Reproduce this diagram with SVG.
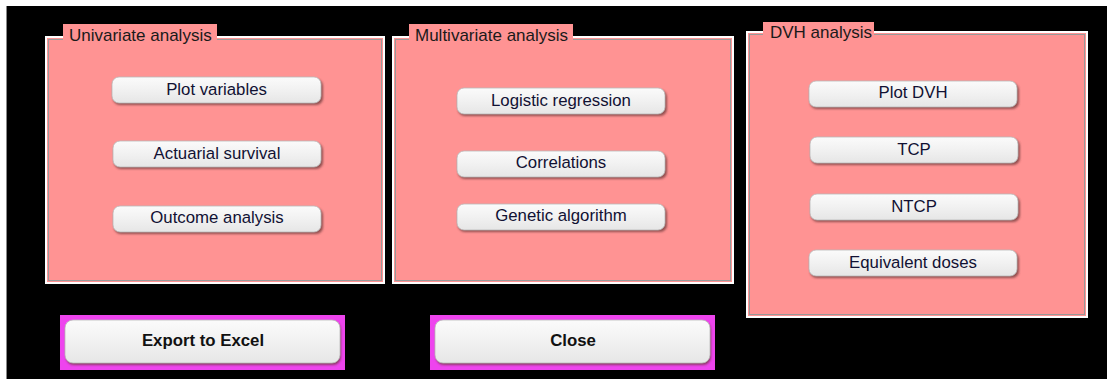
<svg xmlns="http://www.w3.org/2000/svg" width="1107" height="379" viewBox="0 0 1107 379">
  <defs>
    <linearGradient id="btnGrad" x1="0" y1="0" x2="0" y2="1">
      <stop offset="0" stop-color="#fbfbfb"/>
      <stop offset="0.5" stop-color="#f1f1f1"/>
      <stop offset="1" stop-color="#e6e6e6"/>
    </linearGradient>
    <filter id="blur1" x="-10%" y="-30%" width="120%" height="160%">
      <feGaussianBlur stdDeviation="1"/>
    </filter>
  </defs>
  <style>
    .panel { fill: #ff9393; stroke: #ffffff; stroke-width: 2; }
    .panelInner { fill: none; stroke: #9a9a9a; stroke-width: 1; }
    .legendBg { fill: #ff9393; }
    .legend { font-family: "Liberation Sans", Arial, sans-serif; font-size: 17px; fill: #1a1a1a; }
    .shadow { fill: #6e3a3a; opacity: 0.75; filter: url(#blur1); }
    .btn { fill: url(#btnGrad); stroke: #b9b9b9; stroke-width: 0.8; }
    .btnText { font-family: "Liberation Sans", Arial, sans-serif; font-size: 16.8px; fill: #111133; text-anchor: middle; }
    .bigText { font-family: "Liberation Sans", Arial, sans-serif; font-size: 16.8px; font-weight: bold; fill: #111111; text-anchor: middle; }
    .focus { fill: #ee44ee; }
  </style>

  <rect x="0" y="0" width="1107" height="379" fill="#000000"/>
  <rect x="0" y="0" width="1107" height="6" fill="#ffffff"/>
  <rect x="0" y="0" width="6" height="379" fill="#ffffff"/>
  <line x1="6.5" y1="6" x2="6.5" y2="379" stroke="#888888" stroke-width="1"/>

  <g id="connectors"/>

  <!-- Univariate analysis -->
  <g id="panel-univariate">
    <rect class="panel" x="46" y="37" width="338" height="246"/>
    <rect class="panelInner" x="48.5" y="39.5" width="333" height="241"/>
    <rect class="legendBg" x="63" y="24" width="154" height="17"/>
    <text class="legend" x="69" y="41">Univariate analysis</text>
  </g>
  <g id="btn-plot-variables">
    <rect class="shadow" x="113" y="79" width="210" height="26" rx="7"/>
    <rect class="btn" x="112" y="77" width="209" height="26" rx="7"/>
    <text class="btnText" x="216.5" y="95">Plot variables</text>
  </g>
  <g id="btn-actuarial-survival">
    <rect class="shadow" x="114" y="143" width="209" height="26" rx="7"/>
    <rect class="btn" x="113" y="141" width="208" height="26" rx="7"/>
    <text class="btnText" x="217" y="159">Actuarial survival</text>
  </g>
  <g id="btn-outcome-analysis">
    <rect class="shadow" x="114" y="208" width="209" height="26" rx="7"/>
    <rect class="btn" x="113" y="206" width="208" height="26" rx="7"/>
    <text class="btnText" x="217" y="223">Outcome analysis</text>
  </g>

  <!-- Multivariate analysis -->
  <g id="panel-multivariate">
    <rect class="panel" x="393" y="37" width="340" height="246"/>
    <rect class="panelInner" x="395.5" y="39.5" width="335" height="241"/>
    <rect class="legendBg" x="409" y="24" width="164" height="17"/>
    <text class="legend" x="415" y="41">Multivariate analysis</text>
  </g>
  <g id="btn-logistic-regression">
    <rect class="shadow" x="458" y="90" width="209" height="26" rx="7"/>
    <rect class="btn" x="457" y="88" width="208" height="26" rx="7"/>
    <text class="btnText" x="561" y="106">Logistic regression</text>
  </g>
  <g id="btn-correlations">
    <rect class="shadow" x="458" y="153" width="209" height="26" rx="7"/>
    <rect class="btn" x="457" y="151" width="208" height="26" rx="7"/>
    <text class="btnText" x="561" y="168">Correlations</text>
  </g>
  <g id="btn-genetic-algorithm">
    <rect class="shadow" x="458" y="206" width="209" height="26" rx="7"/>
    <rect class="btn" x="457" y="204" width="208" height="26" rx="7"/>
    <text class="btnText" x="561" y="221">Genetic algorithm</text>
  </g>

  <!-- DVH analysis -->
  <g id="panel-dvh">
    <rect class="panel" x="747" y="32" width="340" height="285"/>
    <rect class="panelInner" x="749.5" y="34.5" width="335" height="280"/>
    <rect class="legendBg" x="763" y="22" width="111" height="17"/>
    <text class="legend" x="770" y="38">DVH analysis</text>
  </g>
  <g id="btn-plot-dvh">
    <rect class="shadow" x="810" y="83" width="209" height="26" rx="7"/>
    <rect class="btn" x="809" y="81" width="208" height="26" rx="7"/>
    <text class="btnText" x="913" y="98">Plot DVH</text>
  </g>
  <g id="btn-tcp">
    <rect class="shadow" x="811" y="139" width="209" height="26" rx="7"/>
    <rect class="btn" x="810" y="137" width="208" height="26" rx="7"/>
    <text class="btnText" x="914" y="155">TCP</text>
  </g>
  <g id="btn-ntcp">
    <rect class="shadow" x="811" y="196" width="209" height="26" rx="7"/>
    <rect class="btn" x="810" y="194" width="208" height="26" rx="7"/>
    <text class="btnText" x="914" y="212">NTCP</text>
  </g>
  <g id="btn-equivalent-doses">
    <rect class="shadow" x="810" y="252" width="209" height="26" rx="7"/>
    <rect class="btn" x="809" y="250" width="208" height="26" rx="7"/>
    <text class="btnText" x="913" y="268">Equivalent doses</text>
  </g>

  <!-- Bottom buttons -->
  <g id="btn-export-excel">
    <rect class="focus" x="60" y="315" width="285" height="55"/>
    <rect class="shadow" x="66" y="322" width="275" height="43" rx="8"/>
    <rect class="btn" x="65" y="320" width="275" height="43" rx="8"/>
    <text class="bigText" x="203" y="346">Export to Excel</text>
  </g>
  <g id="btn-close">
    <rect class="focus" x="430" y="315" width="285" height="55"/>
    <rect class="shadow" x="436" y="322" width="275" height="43" rx="8"/>
    <rect class="btn" x="435" y="320" width="275" height="43" rx="8"/>
    <text class="bigText" x="573" y="346">Close</text>
  </g>
</svg>
